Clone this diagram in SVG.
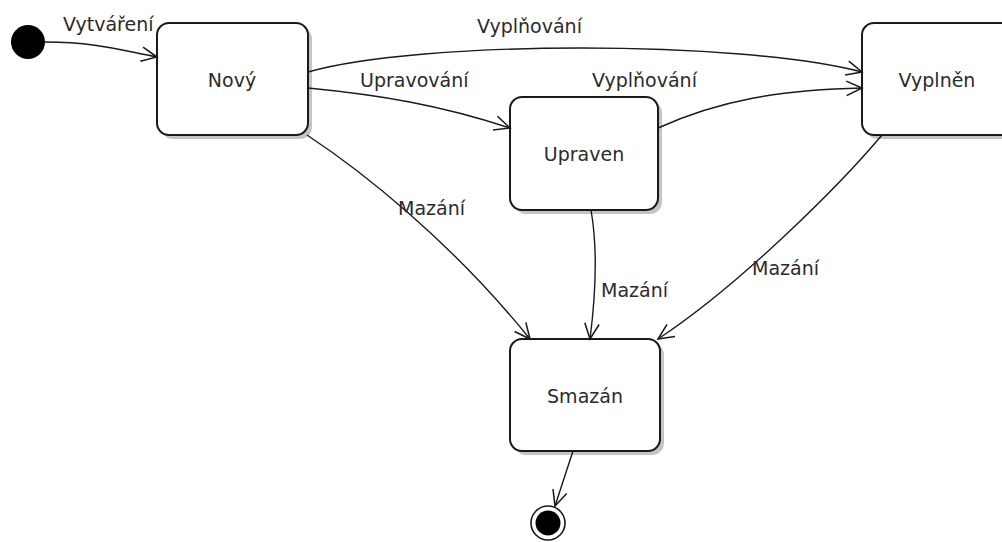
<svg xmlns="http://www.w3.org/2000/svg" width="1002" height="542" viewBox="0 0 1002 542">
  <style>
    .box { fill: #ffffff; stroke: #1a1a1a; stroke-width: 2; }
    .shadow { fill: #c4c4c4; }
    .name { font-family: "DejaVu Sans", Verdana, sans-serif; font-size: 19px; fill: #2b2b2b; text-anchor: middle; }
    .lbl { font-family: "DejaVu Sans", Verdana, sans-serif; font-size: 19px; fill: #2b2b2b; }
    .edge { fill: none; stroke: #1a1a1a; stroke-width: 1.4; marker-end: url(#open); }
  </style>
  <defs>
    <marker id="open" markerUnits="userSpaceOnUse" markerWidth="20" markerHeight="20" viewBox="-16 -8 18 16" refX="0" refY="0" orient="auto">
      <path d="M -14 -6.5 L 0 0 L -14 6.5" fill="none" stroke="#1a1a1a" stroke-width="1.4"/>
    </marker>
  </defs>
  <rect width="1002" height="542" fill="#ffffff"/>

  <!-- initial pseudo-state -->
  <g id="start">
    <circle cx="28" cy="42" r="17" fill="#000000"/>
  </g>

  <!-- states -->
  <g id="novy">
    <rect class="shadow" x="161" y="27" width="151" height="112" rx="12"/>
    <rect class="box" x="157" y="23" width="151" height="112" rx="12"/>
    <text class="name" x="232" y="87">Nový</text>
  </g>
  <g id="upraven">
    <rect class="shadow" x="514" y="101" width="148" height="113" rx="12"/>
    <rect class="box" x="510" y="97" width="148" height="113" rx="12"/>
    <text class="name" x="584" y="161">Upraven</text>
  </g>
  <g id="vyplnen">
    <rect class="shadow" x="866" y="27" width="151" height="112" rx="12"/>
    <rect class="box" x="862" y="23" width="151" height="112" rx="12"/>
    <text class="name" x="937" y="87">Vyplněn</text>
  </g>
  <g id="smazan">
    <rect class="shadow" x="514" y="343" width="150" height="112" rx="12"/>
    <rect class="box" x="510" y="339" width="150" height="112" rx="12"/>
    <text class="name" x="585" y="403">Smazán</text>
  </g>

  <!-- final pseudo-state -->
  <g id="end">
    <circle cx="548" cy="523" r="17" fill="#ffffff" stroke="#1a1a1a" stroke-width="1.6"/>
    <circle cx="548" cy="523" r="12.5" fill="#000000"/>
  </g>

  <!-- transitions -->
  <g id="connectors">
    <path class="edge" d="M 45 42 C 95 42, 120 50, 157 57"/>
    <path class="edge" d="M 308 72 C 420 40, 740 40, 862 72"/>
    <path class="edge" d="M 308 88 C 380 95, 440 105, 510 128"/>
    <path class="edge" d="M 658 128 C 720 100, 780 90, 862 88"/>
    <path class="edge" d="M 307 135 C 360 170, 450 240, 530 339"/>
    <path class="edge" d="M 591 210 C 598 250, 595 300, 590 339"/>
    <path class="edge" d="M 882 135 C 840 185, 740 285, 658 339"/>
    <path class="edge" d="M 573 451 L 555 506"/>
  </g>

  <!-- transition labels -->
  <g id="labels">
    <text class="lbl" x="63" y="31">Vytváření</text>
    <text class="lbl" x="477" y="33">Vyplňování</text>
    <text class="lbl" x="360" y="87">Upravování</text>
    <text class="lbl" x="592" y="87">Vyplňování</text>
    <text class="lbl" x="398" y="215">Mazání</text>
    <text class="lbl" x="601" y="297">Mazání</text>
    <text class="lbl" x="752" y="275">Mazání</text>
  </g>
</svg>
